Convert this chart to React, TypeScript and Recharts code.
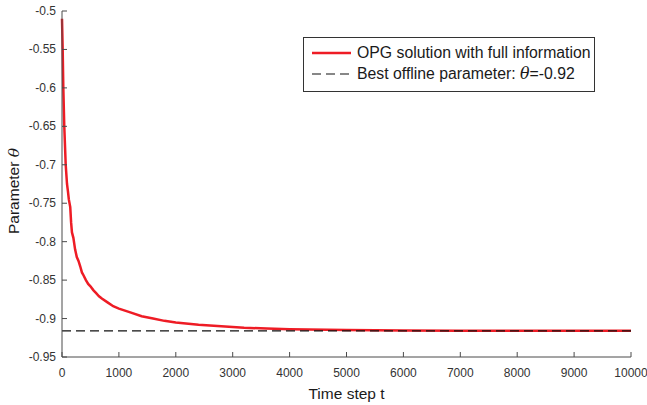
import React from 'react';
import { LineChart, Line, XAxis, YAxis, ReferenceLine } from 'recharts';

const TIME_STEPS = [
  0, 12, 23, 40, 65, 88, 105, 120, 145, 160, 175, 200, 230, 260, 290, 320, 350, 380,
  420, 460, 500, 550, 600, 650, 700, 800, 900, 1000, 1200, 1400, 1600, 1800, 2000,
  2400, 2800, 3200, 3600, 4000, 5000, 6000, 7000, 8000, 9000, 10000,
];
const THETA = [
  -0.51, -0.55, -0.6, -0.65, -0.7, -0.725, -0.735, -0.745, -0.755, -0.775, -0.788, -0.795,
  -0.81, -0.82, -0.825, -0.832, -0.84, -0.844, -0.85, -0.855, -0.858, -0.863, -0.867,
  -0.871, -0.874, -0.879, -0.884, -0.887, -0.892, -0.897, -0.9, -0.903, -0.905, -0.908,
  -0.91, -0.912, -0.913, -0.914, -0.915, -0.9155, -0.916, -0.916, -0.916, -0.916,
];
const BEST_THETA = -0.916;
const X_TICKS = [0, 1000, 2000, 3000, 4000, 5000, 6000, 7000, 8000, 9000, 10000];
const Y_TICKS = [-0.95, -0.9, -0.85, -0.8, -0.75, -0.7, -0.65, -0.6, -0.55, -0.5];

const data = TIME_STEPS.map((t, i) => ({ t, theta: THETA[i] }));

const AXIS = '#4a4a4a';
const FONT = '"Liberation Sans", Arial, Helvetica, sans-serif';

const XTick = ({ x, y, payload }: any) => (
  <g>
    <line x1={x} y1={y} x2={x} y2={y - 5} stroke={AXIS} strokeWidth={1} />
    <text x={x} y={y + 20} textAnchor="middle" fontSize={12} fill="#333" fontFamily={FONT}>
      {payload.value}
    </text>
  </g>
);

const YTick = ({ x, y, payload }: any) => (
  <g>
    <line x1={x} y1={y} x2={x + 5} y2={y} stroke={AXIS} strokeWidth={1} />
    <text x={x - 6} y={y + 4} textAnchor="end" fontSize={12} fill="#333" fontFamily={FONT}>
      {payload.value}
    </text>
  </g>
);

const LegendBox = () => (
  <div
    style={{
      position: 'absolute',
      left: 303,
      top: 37,
      width: 290,
      height: 49,
      border: '1px solid #333',
      background: '#fff',
      fontFamily: FONT,
      fontSize: 15.8,
      color: '#1a1a1a',
      paddingTop: 4,
      boxSizing: 'content-box',
    }}
  >
    <div style={{ display: 'flex', alignItems: 'center', height: 21 }}>
      <svg width={53} height={10}>
        <line x1={8} y1={5} x2={47} y2={5} stroke="#ee1c25" strokeWidth={2.5} />
      </svg>
      <span>OPG solution with full information</span>
    </div>
    <div style={{ display: 'flex', alignItems: 'center', height: 21 }}>
      <svg width={53} height={10}>
        <line x1={8} y1={5} x2={47} y2={5} stroke="#111" strokeWidth={1.2} strokeDasharray="9 5" />
      </svg>
      <span>
        Best offline parameter: <i style={{ fontFamily: '"DejaVu Serif", serif' }}>θ</i>=-0.92
      </span>
    </div>
  </div>
);

export default function App() {
  return (
    <div style={{ position: 'absolute', left: 0, top: 0, width: 647, height: 405, background: '#fff' }}>
      <LineChart width={647} height={405} data={data} margin={{ top: 11, right: 16, bottom: 0, left: 0 }}>
        <XAxis
          dataKey="t"
          type="number"
          domain={[0, 10000]}
          ticks={X_TICKS}
          interval={0}
          tickSize={0}
          tickMargin={0}
          tick={<XTick />}
          height={48}
          stroke={AXIS}
          label={{
            value: 'Time step t',
            position: 'insideBottom',
            offset: 6,
            fontSize: 15.5,
            fill: '#1a1a1a',
            fontFamily: FONT,
          }}
        />
        <YAxis
          type="number"
          domain={[-0.95, -0.5]}
          ticks={Y_TICKS}
          interval={0}
          tickSize={0}
          tickMargin={0}
          tick={<YTick />}
          width={62}
          stroke={AXIS}
          allowDataOverflow
          label={{
            content: () => {
              const cx = 19;
              const cy = 191;
              return (
                <text
                  x={cx}
                  y={cy}
                  transform={`rotate(-90, ${cx}, ${cy})`}
                  textAnchor="middle"
                  fontSize={15.5}
                  fill="#1a1a1a"
                  fontFamily={FONT}
                >
                  Parameter <tspan fontStyle="italic" fontFamily='"DejaVu Serif", serif'>θ</tspan>
                </text>
              );
            },
          }}
        />
        <Line
          type="linear"
          dataKey="theta"
          stroke="#ee1c25"
          strokeWidth={2.5}
          dot={false}
          isAnimationActive={false}
        />
        <ReferenceLine y={BEST_THETA} stroke="#111" strokeWidth={1.2} strokeDasharray="9 5" />
      </LineChart>
      <LegendBox />
    </div>
  );
}
